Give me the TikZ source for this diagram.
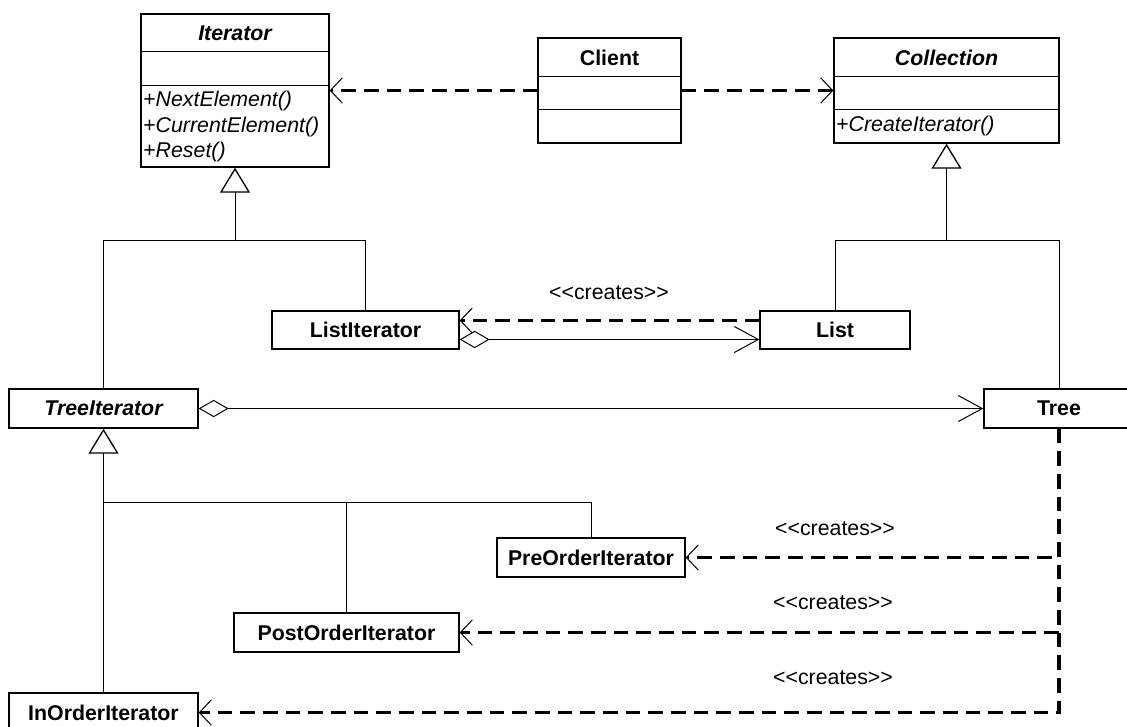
\documentclass[tikz,border=0pt]{standalone}
\usepackage{fontspec}
\setmainfont{Liberation Sans}
\usetikzlibrary{arrows.meta}
\begin{document}
\begin{tikzpicture}[x=0.75pt,y=-0.75pt,
  font=\fontsize{16}{19}\selectfont,
  cls/.style 2 args={draw, line width=1pt, fill=white, minimum width=#1*0.75pt,
    minimum height=#2*0.75pt, inner sep=0pt, font=\fontsize{16}{19}\selectfont\bfseries},
  title/.style={inner sep=0pt, font=\fontsize{16}{19}\selectfont\bfseries},
  meth/.style={anchor=west, inner sep=0pt},
  lbl/.style={inner sep=0pt},
  gen/.style={line width=0.75pt},
  inherit/.style={line width=0.75pt,
    -{Triangle[fill=white,length=18.75pt,width=22.5pt,line width=1pt]}},
  dep/.style={line width=2.5pt, dash pattern=on 11pt off 6pt,
    -{Straight Barb[length=9pt,width=19pt,line width=0.75pt]}},
  assoc/.style={line width=0.75pt,
    {Diamond[fill=white,length=22.5pt,width=13pt,line width=0.75pt]}-{Straight Barb[length=18pt,width=19.5pt,line width=0.75pt]}},
  rule/.style={line width=1pt}
]
\useasboundingbox (0,0) rectangle (1127,726);
\clip (0,0) rectangle (1127,726);

% ---- abstract Iterator with three compartments
\node[cls={188}{153}] (Iterator) at (235,90.5) {};
\draw[rule] ([yshift=-28.5pt]Iterator.north west) -- ([yshift=-28.5pt]Iterator.north east);
\draw[rule] ([yshift=-54pt]Iterator.north west) -- ([yshift=-54pt]Iterator.north east);
\node[title] (IteratorName) at (235,33) {\itshape Iterator};
\node[meth] (mNext) at (143,101) {+\textit{NextElement()}};
\node[meth] (mCurrent) at (143,127) {+\textit{CurrentElement()}};
\node[meth] (mReset) at (143,152) {+\textit{Reset()}};

% ---- Client
\node[cls={143}{105}] (Client) at (609.5,90.5) {};
\draw[rule] ([yshift=-29.25pt]Client.north west) -- ([yshift=-29.25pt]Client.north east);
\draw[rule] ([yshift=-54pt]Client.north west) -- ([yshift=-54pt]Client.north east);
\node[title] (ClientName) at (609.5,57.5) {Client};

% ---- abstract Collection
\node[cls={225}{105}] (Collection) at (946.5,90.5) {};
\draw[rule] ([yshift=-29.25pt]Collection.north west) -- ([yshift=-29.25pt]Collection.north east);
\draw[rule] ([yshift=-54pt]Collection.north west) -- ([yshift=-54pt]Collection.north east);
\node[title] (CollectionName) at (946.5,57.5) {\itshape Collection};
\node[meth] (mCreate) at (836,126) {+\textit{CreateIterator()}};

% ---- concrete classes
\node[cls={187}{38}] (ListIterator) at (365.5,330) {ListIterator};
\node[cls={150}{38}] (List) at (835,330) {List};
\node[cls={189}{39}] (TreeIterator) at (103.5,408.5) {\itshape TreeIterator};
\node[cls={150}{39}] (Tree) at (1059,408.5) {Tree};
\node[cls={188}{39}] (PreOrder) at (591,557.5) {PreOrderIterator};
\node[cls={225}{39}] (PostOrder) at (346.5,632.5) {PostOrderIterator};
\node[cls={189}{39}] (InOrder) at (103.5,712.5) {InOrderIterator};

% ---- junctions of the inheritance trees
\coordinate (iterjoin) at (235,240);
\coordinate (colljoin) at (946.5,240);
\coordinate (treejoin) at (103.5,502);

% ---- generalisation
\draw[inherit] (iterjoin) -- (Iterator.south);
\draw[gen] (TreeIterator.north) |- (ListIterator.north |- iterjoin) -- (ListIterator.north);
\draw[inherit] (colljoin) -- (Collection.south);
\draw[gen] (List.north) |- (Tree.north |- colljoin) -- (Tree.north);
\draw[inherit] (treejoin) -- (TreeIterator.south);
\draw[gen] (InOrder.north) -- (treejoin) -- (PreOrder.north |- treejoin) -- (PreOrder.north);
\draw[gen] (PostOrder.north) -- (PostOrder.north |- treejoin);

% ---- client dependencies
\draw[dep] (Client.west) -- (Client.west -| Iterator.east);
\draw[dep] (Client.east) -- (Client.east -| Collection.west);

% ---- List / ListIterator
\draw[dep] ([yshift=7.1pt]List.west) -- ([yshift=7.1pt]ListIterator.east);
\draw[assoc] ([yshift=-7.1pt]ListIterator.east) -- ([yshift=-7.1pt]List.west);
\node[lbl] (lblList) at (609,293) {<\kern0pt<creates>\kern0pt>};

% ---- Tree / TreeIterator
\draw[assoc] (TreeIterator.east) -- (Tree.west);
\draw[dep] (Tree.south) |- (PreOrder.east);
\draw[dep] (Tree.south) |- (PostOrder.east);
\draw[dep] (Tree.south) |- (InOrder.east);
\node[lbl] (lblPre) at (835,529) {<\kern0pt<creates>\kern0pt>};
\node[lbl] (lblPost) at (833,603) {<\kern0pt<creates>\kern0pt>};
\node[lbl] (lblIn) at (833,678) {<\kern0pt<creates>\kern0pt>};
\end{tikzpicture}
\end{document}
